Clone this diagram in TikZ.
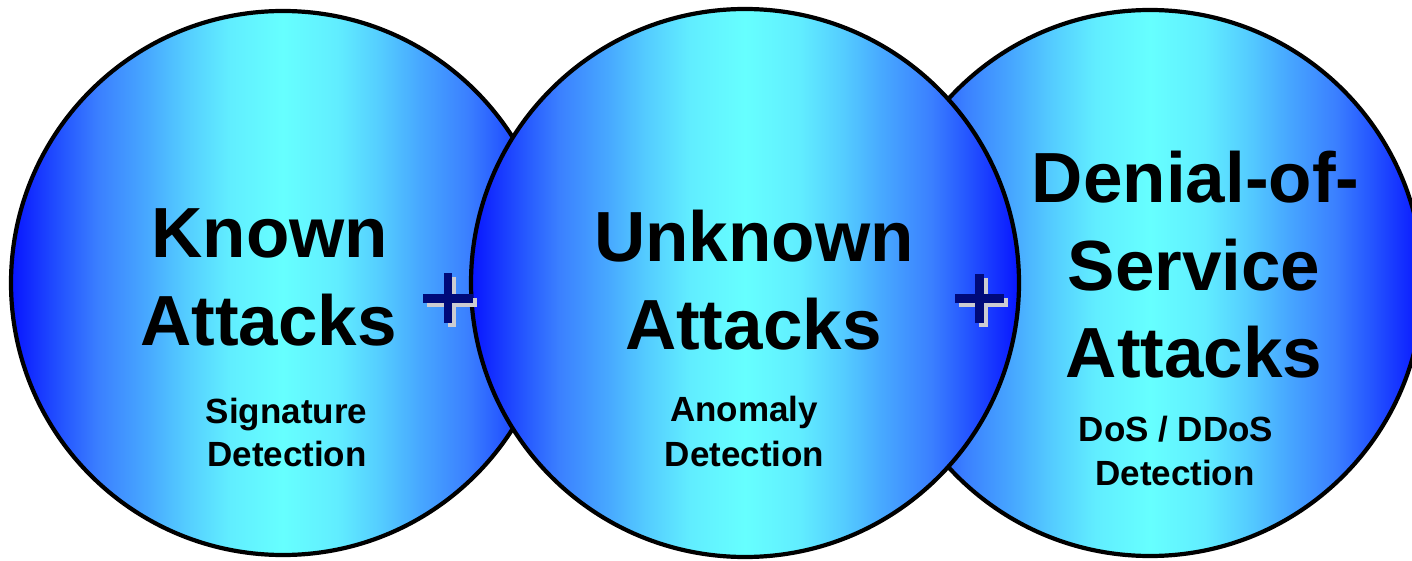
\documentclass[tikz,border=0pt]{standalone}
\usepackage{fontspec}
\setmainfont{Liberation Sans}
\definecolor{edgeblue}{rgb}{0.03,0.08,1}
\definecolor{gA}{rgb}{0.15,0.35,1}
\definecolor{gB}{rgb}{0.23,0.50,1}
\definecolor{gC}{rgb}{0.28,0.66,1}
\definecolor{gD}{rgb}{0.33,0.80,1}
\definecolor{gE}{rgb}{0.38,0.93,1}
\definecolor{cyancore}{rgb}{0.40,1,1}
\definecolor{plusnavy}{rgb}{0.0,0.04,0.48}
\definecolor{plusshadow}{rgb}{0.80,0.80,0.82}
\pgfdeclarehorizontalshading{ballblue}{100bp}{%
  color(0bp)=(edgeblue); color(25bp)=(edgeblue); color(30bp)=(gA); color(33bp)=(gB);
  color(37.5bp)=(gC); color(41bp)=(gD); color(45bp)=(gE); color(50bp)=(cyancore);
  color(55bp)=(gE); color(59bp)=(gD); color(62.5bp)=(gC); color(67bp)=(gB);
  color(70bp)=(gA); color(75bp)=(edgeblue); color(100bp)=(edgeblue)}
\tikzset{
  ball/.style={draw=black, line width=4.2pt, shading=ballblue},
  bigtext/.style={inner sep=0pt, anchor=base, font=\fontsize{71}{88}\selectfont\bfseries},
  smalltext/.style={inner sep=0pt, anchor=base, font=\fontsize{35}{43}\selectfont\bfseries},
  pics/plussign/.style={code={
    \fill[plusshadow] (-24.5+4,-4.5+4) rectangle (25+4,4.5+4);
    \fill[plusshadow] (-4.3+4,-24.7+4) rectangle (4.3+4,24.7+4);
    \fill[plusnavy] (-24.5,-4.5) rectangle (25,4.5);
    \fill[plusnavy] (-4.3,-24.7) rectangle (4.3,24.7);
  }}
}
\begin{document}
\begin{tikzpicture}[x=1pt,y=-1pt]
\useasboundingbox (0,0) rectangle (1412,561);
\clip (0,0) rectangle (1412,561);
% circles: right and left first, middle on top
\path[ball] (1150,283) circle[radius=273];
\path[ball] (283,283) circle[radius=272];
\path[ball] (745,283) circle[radius=274];
% plus signs
\pic (plusA) at (447.8,298) {plussign};
\pic (plusB) at (979.2,298.5) {plussign};
% left circle text
\node[bigtext] (knownA) at (270,257) {Known};
\node[bigtext] (knownB) at (268.5,345) {Attacks};
\node[smalltext] (sigA) at (286.5,423.3) {Signature};
\node[smalltext] (sigB) at (287,466.7) {Detection};
% middle circle text
\node[bigtext] (unkA) at (754,261.7) {Unknown};
\node[bigtext] (unkB) at (753.3,349.3) {Attacks};
\node[smalltext] (anoA) at (744,421.7) {Anomaly};
\node[smalltext] (anoB) at (744.5,466.7) {Detection};
% right circle text
\node[bigtext] (dosA) at (1195.6,202.7) {Denial-of-};
\node[bigtext] (dosB) at (1194,290) {Service};
\node[bigtext] (dosC) at (1194,377.3) {Attacks};
\node[smalltext] (ddosA) at (1176,441.7) {DoS / DDoS};
\node[smalltext] (ddosB) at (1175,485) {Detection};
\end{tikzpicture}
\end{document}
